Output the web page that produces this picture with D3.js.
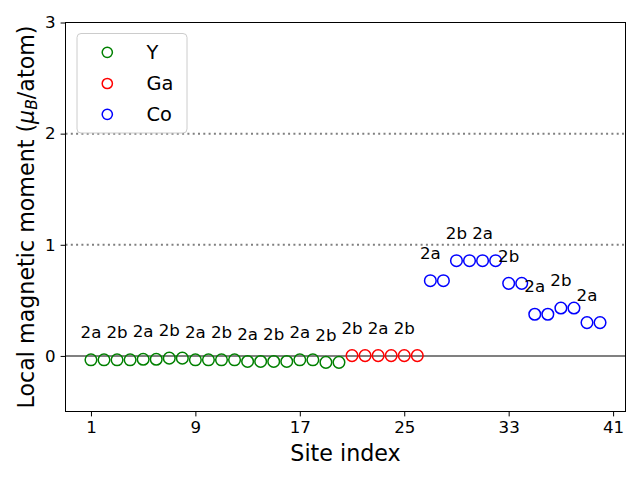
<!DOCTYPE html>
<html>
<head>
<meta charset="utf-8">
<script src="https://cdn.jsdelivr.net/npm/d3@7"></script>
<style>
  html, body { margin: 0; padding: 0; background: #fff; }
  svg { display: block; font-family: "DejaVu Sans", sans-serif; }
</style>
</head>
<body>
<svg id="chart" width="640" height="480"></svg>
<script>
// ---- data ----
const ySites  = [1,2,3,4,5,6,7,8,9,10,11,12,13,14,15,16,17,18,19,20];
const yValues = [-0.035,-0.035,-0.035,-0.035,-0.03,-0.03,-0.02,-0.02,-0.035,-0.035,
                 -0.035,-0.035,-0.05,-0.05,-0.05,-0.05,-0.035,-0.035,-0.058,-0.058];
const gaSites  = [21,22,23,24,25,26];
const gaValues = [0.003,0.003,0.003,0.003,0.003,0.003];
const coSites  = [27,28,29,30,31,32,33,34,35,36,37,38,39,40];
const coValues = [0.677,0.677,0.857,0.857,0.857,0.857,0.653,0.653,0.375,0.375,0.431,0.431,0.30,0.30];
const labelSites = [1,3,5,7,9,11,13,15,17,19,21,23,25,27,29,31,33,35,37,39];
const labelTexts = ["2a","2b","2a","2b","2a","2b","2a","2b","2a","2b",
                    "2b","2a","2b","2a","2b","2a","2b","2a","2b","2a"];
const xTicks = [1,9,17,25,33,41];
const yTicks = [0,1,2,3];
const refLinesDotted = [1,2];
const seriesNames = ["Y","Ga","Co"];
const seriesColors = ["#008000","#ff0000","#0000ff"];

// ---- layout ----
const L = 65.5, R = 625.5, T = 22.5, B = 411.5;
const svg = d3.select("#chart");
const x = d3.scaleLinear().domain([-0.95, 41.95]).range([L, R]);
const y = d3.scaleLinear().domain([-0.5, 3]).range([B, T]);

// reference lines
svg.append("g").selectAll("line").data(refLinesDotted).join("line")
  .attr("x1", L).attr("x2", R)
  .attr("y1", d => y(d)).attr("y2", d => y(d))
  .attr("stroke", "#808080").attr("stroke-width", 2)
  .attr("stroke-dasharray", "2,3.3");
svg.append("line")
  .attr("x1", L).attr("x2", R).attr("y1", y(0)).attr("y2", y(0))
  .attr("stroke", "#808080").attr("stroke-width", 2);

// points
const series = [
  {sites: ySites, vals: yValues},
  {sites: gaSites, vals: gaValues},
  {sites: coSites, vals: coValues}
];
const allVal = {};
series.forEach((s, k) => {
  s.sites.forEach((site, i) => { allVal[site] = s.vals[i]; });
  svg.append("g").selectAll("circle").data(s.sites.map((site, i) => [site, s.vals[i]])).join("circle")
    .attr("cx", d => x(d[0])).attr("cy", d => y(d[1])).attr("r", 5.8)
    .attr("fill", "none").attr("stroke", seriesColors[k]).attr("stroke-width", 1.5);
});

// site labels
svg.append("g").selectAll("text").data(labelSites.map((s, i) => [s, labelTexts[i]])).join("text")
  .attr("x", d => x(d[0])).attr("y", d => y(allVal[d[0]] + 0.25) + 6)
  .attr("text-anchor", "middle").attr("font-size", "16.67px").attr("fill", "#000")
  .text(d => d[1]);

// axes
const xAxis = d3.axisBottom(x).tickValues(xTicks).tickSize(4.9).tickPadding(4.9).tickFormat(d3.format("d"));
const gx = svg.append("g").attr("transform", `translate(0,${B})`).call(xAxis);
const yAxis = d3.axisLeft(y).tickValues(yTicks).tickSize(4.9).tickPadding(4.9).tickFormat(d3.format("d"));
const gy = svg.append("g").attr("transform", `translate(${L},0)`).call(yAxis);
[gx, gy].forEach(g => {
  g.select(".domain").remove();
  g.selectAll("text").attr("font-size", "16.67px").attr("font-family", "DejaVu Sans").attr("fill", "#000");
  g.selectAll("line").attr("stroke", "#000").attr("stroke-width", 1);
});

// frame
svg.append("rect").attr("x", L).attr("y", T).attr("width", R - L).attr("height", B - T)
  .attr("fill", "none").attr("stroke", "#000").attr("stroke-width", 1);

// axis labels
svg.append("text").attr("x", (L + R) / 2).attr("y", 461)
  .attr("text-anchor", "middle").attr("font-size", "22.2px").text("Site index");
const yl = svg.append("text")
  .attr("transform", `translate(33.5,${(T + B) / 2}) rotate(-90)`)
  .attr("text-anchor", "middle").attr("font-size", "22.2px");
yl.append("tspan").text("Local magnetic moment (");
yl.append("tspan").attr("font-style", "italic").text("μ");
yl.append("tspan").attr("font-style", "italic").attr("font-size", "15.5px").attr("dy", 3.5).text("B");
yl.append("tspan").attr("dy", -3.5).text("/atom)");

// legend
const lg = svg.append("g");
lg.append("rect").attr("x", 77).attr("y", 33.5).attr("width", 110).attr("height", 99.5)
  .attr("rx", 4).attr("fill", "#fff").attr("fill-opacity", 0.8)
  .attr("stroke", "#cccccc").attr("stroke-width", 1);
const legY = [52.3, 83.5, 114.3];
seriesNames.forEach((n, i) => {
  lg.append("circle").attr("cx", 107.3).attr("cy", legY[i]).attr("r", 5.1)
    .attr("fill", "none").attr("stroke", seriesColors[i]).attr("stroke-width", 1.5);
  lg.append("text").attr("x", 146.5).attr("y", legY[i] + 6.8)
    .attr("font-size", "19.4px").text(n);
});
</script>
</body>
</html>
